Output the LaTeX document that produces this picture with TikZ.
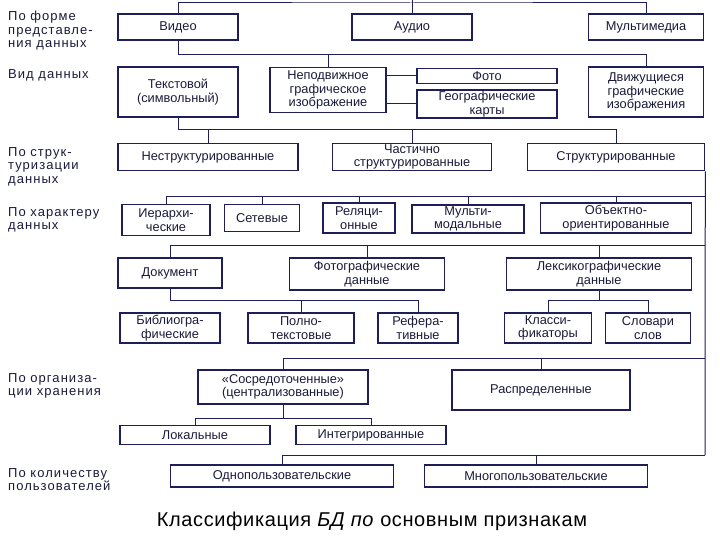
\documentclass[tikz,border=0pt]{standalone}
\usepackage{fontspec}
\setmainfont{Liberation Sans}
\definecolor{nv}{HTML}{1E1E5A}
\definecolor{tx}{HTML}{1A1A3A}
\begin{document}
\begin{tikzpicture}[x=1pt,y=-1pt,
  bx/.style={draw=nv,line width=1.6pt,text=tx,font=\fontsize{12.8}{13.5}\selectfont,align=center,inner sep=0pt},
  ln/.style={draw=nv,line width=1pt},
  lb/.style={anchor=north west,text=tx,font=\fontsize{13}{13.5}\selectfont\addfontfeature{LetterSpace=8},align=left,inner sep=0pt}]
\useasboundingbox (0,0) rectangle (720,540);
% row 1
\node[bx,minimum width=120,minimum height=26] (vid) at (178,27) {Видео};
\node[bx,minimum width=120,minimum height=26] (aud) at (412,27) {Аудио};
\node[bx,minimum width=115,minimum height=26] (mm) at (646,27) {Мультимедиа};
% row 2
\node[bx,minimum width=120,minimum height=50] (txt) at (178,92) {Текстовой\\(символьный)};
\node[bx,minimum width=116,minimum height=45] (nep) at (328,90) {Неподвижное\\графическое\\изображение};
\node[bx,minimum width=140,minimum height=15] (foto) at (487,76) {Фото};
\node[bx,minimum width=140,minimum height=28] (geo) at (487,104) {Географические\\карты};
\node[bx,minimum width=115,minimum height=50] (dv) at (646,92) {Движущиеся\\графические\\изображения};
% row 3
\node[bx,minimum width=180,minimum height=27] (nes) at (208,157) {Неструктурированные};
\node[bx,minimum width=159,minimum height=27] (chs) at (412,157) {Частично\\структурированные};
\node[bx,minimum width=177,minimum height=27] (str) at (616,157) {Структурированные};
% row 4
\node[bx,minimum width=88,minimum height=31] (ier) at (166,220) {Иерархи-\\ческие};
\node[bx,minimum width=75,minimum height=27] (set) at (262,218) {Сетевые};
\node[bx,minimum width=72,minimum height=30] (rel) at (359,218) {Реляци-\\онные};
\node[bx,minimum width=112,minimum height=28] (mul) at (468,219) {Мульти-\\модальные};
\node[bx,minimum width=151,minimum height=30] (obj) at (616,218) {Объектно-\\ориентированные};
% row 5
\node[bx,minimum width=104,minimum height=30] (doc) at (170,273) {Документ};
\node[bx,minimum width=155,minimum height=32] (fd) at (367,274) {Фотографические\\данные};
\node[bx,minimum width=185,minimum height=32] (lex) at (599,274) {Лексикографические\\данные};
% row 6
\node[bx,minimum width=100,minimum height=30] (bib) at (170,328) {Библиогра-\\фические};
\node[bx,minimum width=106,minimum height=30] (pol) at (301,328) {Полно-\\текстовые};
\node[bx,minimum width=80,minimum height=30] (ref) at (418,328) {Рефера-\\тивные};
\node[bx,minimum width=87,minimum height=30] (kl) at (548,328) {Класси-\\фикаторы};
\node[bx,minimum width=85,minimum height=30] (sl) at (648,328) {Словари\\слов};
% storage
\node[bx,minimum width=170,minimum height=34] (sos) at (283,387) {«Сосредоточенные»\\(централизованные)};
\node[bx,minimum width=178,minimum height=40] (ras) at (541,390) {Распределенные};
\node[bx,minimum width=150,minimum height=19] (lok) at (195,435) {Локальные};
\node[bx,minimum width=150,minimum height=19] (int) at (371,435) {Интегрированные};
% users
\node[bx,minimum width=223,minimum height=22] (odn) at (282,476) {Однопользовательские};
\node[bx,minimum width=223,minimum height=22] (mng) at (536,476) {Многопользовательские};
% connectors
\draw[ln] (vid.north) |- (412,3) -| (mm.north);
\draw[ln] (aud.north) -- (412,0);
\draw[ln] (vid.south) |- (646,55) -- (dv.north);
\draw[ln] (328,55) -- (nep.north);
\draw[ln] (nep.east|-foto.west) -- (foto.west);
\draw[ln] (nep.east|-geo.west) -- (geo.west);
\draw[ln] (txt.south) |- (616,130) -- (str.north);
\draw[ln] (208,130) -- (nes.north);
\draw[ln] (412,130) -- (chs.north);
\coordinate (r1) at (705,197);
\draw[ln] (str.south east) -- (705,455);
\draw[ln] (r1) -| (ier.north);
\draw[ln] (262,197) -- (set.north);
\draw[ln] (359,197) -- (rel.north);
\draw[ln] (468,197) -- (mul.north);
\draw[ln] (616,197) -- (obj.north);
\draw[ln] (705,245) -| (doc.north);
\draw[ln] (367,245) -- (fd.north);
\draw[ln] (599,245) -- (lex.north);
\draw[ln] (doc.south) |- (418,300) -- (ref.north);
\draw[ln] (301,300) -- (pol.north);
\draw[ln] (lex.south) -- (599,300);
\draw[ln] (kl.north) |- (648,300) -- (sl.north);
\draw[ln] (705,358) -| (sos.north);
\draw[ln] (541,358) -- (ras.north);
\draw[ln] (sos.south) -- (283,418);
\draw[ln] (lok.north) |- (371,418) -- (int.north);
\draw[ln] (705,455) -| (odn.north);
\draw[ln] (536,455) -- (mng.north);
% left labels
\node[lb] (l1) at (8,11) {По форме\\представле-\\ния данных};
\node[lb] (l2) at (8,69) {Вид данных};
\node[lb] (l3) at (8,147) {По струк-\\туризации\\данных};
\node[lb] (l4) at (8,207) {По характеру\\данных};
\node[lb] (l5) at (8,373) {По организа-\\ции хранения};
\node[lb] (l6) at (8,468) {По количеству\\пользователей};
\node[text=black,font=\fontsize{20}{22}\selectfont\addfontfeature{LetterSpace=3}] (cap) at (372,521) {Классификация \textit{БД по} основным признакам};
\end{tikzpicture}
\end{document}
